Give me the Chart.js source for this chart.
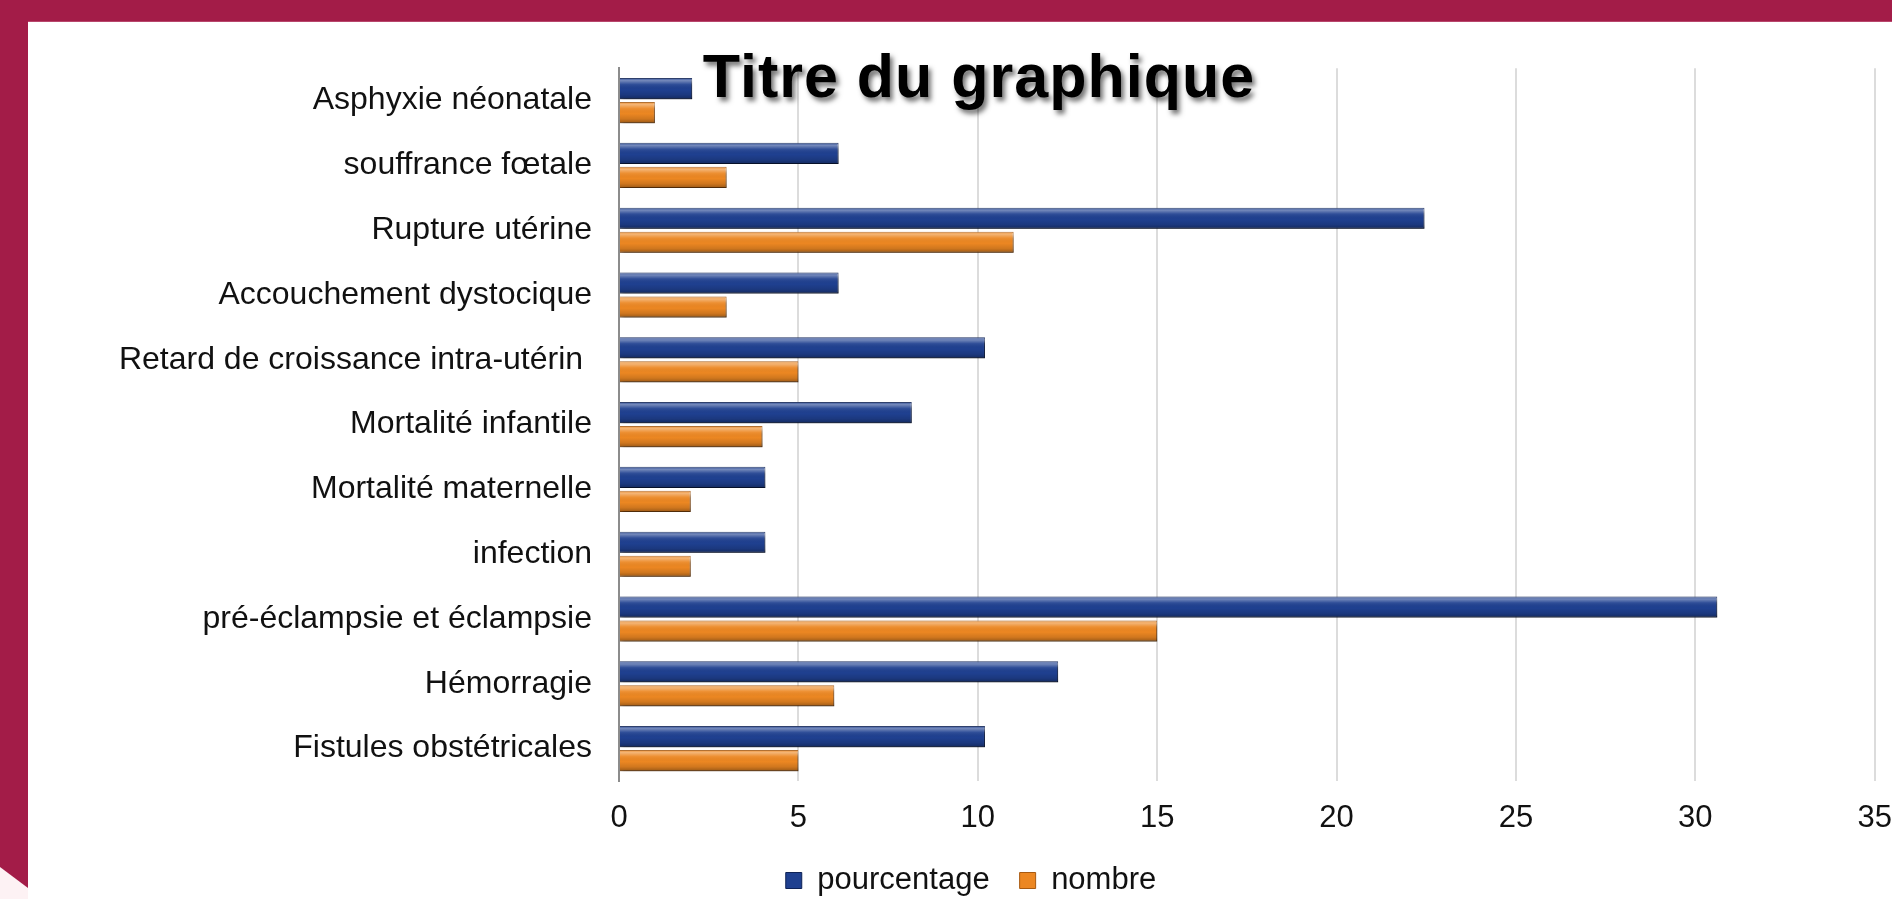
<!DOCTYPE html>
<html>
<head>
<meta charset="utf-8">
<script src="https://cdn.jsdelivr.net/npm/chart.js@4/dist/chart.umd.min.js"></script>
<style>
  body { margin: 0; width: 1892px; height: 899px; overflow: hidden; background: #fff; position: relative; font-family: "Liberation Sans", Arial, sans-serif; }
  #topBand { position: absolute; left: 0; top: 0; width: 1892px; height: 22px; background: #a31c48; border-bottom: 1px solid #b8466c; box-sizing: border-box; z-index: 2; }
  #leftBase { position: absolute; left: 0; top: 0; width: 28px; height: 899px; background: #fdf2f4; z-index: 2; }
  #leftBand { position: absolute; left: 0; top: 0; width: 28px; height: 899px; background: #a31c48; z-index: 3;
    clip-path: polygon(0 0, 28px 0, 28px 888px, 0 867px); }
  #wrap { position: absolute; left: 28px; top: 22px; width: 1886px; height: 877px; }
</style>
</head>
<body>
<div id="leftBase"></div>
<div id="leftBand"></div>
<div id="topBand"></div>
<div id="wrap"><canvas id="myChart"></canvas></div>
<script>
const chartTitle = "Titre du graphique";
const categories = [
  "Asphyxie néonatale",
  "souffrance fœtale",
  "Rupture utérine",
  "Accouchement dystocique",
  "Retard de croissance intra-utérin ",
  "Mortalité infantile",
  "Mortalité maternelle",
  "infection",
  "pré-éclampsie et éclampsie",
  "Hémorragie",
  "Fistules obstétricales"
];
const pourcentage = [2.04, 6.12, 22.45, 6.12, 10.2, 8.16, 4.08, 4.08, 30.61, 12.24, 10.2];
const nombre = [1, 3, 11, 3, 5, 4, 2, 2, 15, 6, 5];
const xTicks = [0, 5, 10, 15, 20, 25, 30, 35];

const fontName = "'Liberation Sans', Arial, sans-serif";

// shadow under the bars + bevel shading on top of them
const bevelPlugin = {
  id: 'bevel',
  beforeDatasetsDraw(chart) {
    const ctx = chart.ctx;
    ctx.save();
    ctx.shadowColor = 'rgba(0,0,0,0.35)';
    ctx.shadowOffsetX = 2;
    ctx.shadowOffsetY = 3;
    ctx.shadowBlur = 4;
  },
  afterDatasetsDraw(chart) {
    const ctx = chart.ctx;
    ctx.restore();
    chart.data.datasets.forEach((ds, i) => {
      chart.getDatasetMeta(i).data.forEach(bar => {
        const left = Math.min(bar.x, bar.base);
        const w = Math.abs(bar.x - bar.base);
        const top = bar.y - bar.height / 2;
        const g = ctx.createLinearGradient(0, top, 0, top + bar.height);
        g.addColorStop(0, 'rgba(255,255,255,0.10)');
        g.addColorStop(0.12, 'rgba(255,255,255,0.38)');
        g.addColorStop(0.3, 'rgba(255,255,255,0.08)');
        g.addColorStop(0.55, 'rgba(0,0,0,0)');
        g.addColorStop(0.8, 'rgba(0,0,0,0.12)');
        g.addColorStop(1, 'rgba(0,0,0,0.35)');
        ctx.fillStyle = g;
        ctx.fillRect(left, top, w, bar.height);
      });
    });
  }
};

// title sits over the plot, like the original
const titlePlugin = {
  id: 'floatTitle',
  afterDraw(chart) {
    const ctx = chart.ctx;
    ctx.save();
    ctx.font = "bold 61px " + fontName;
    ctx.textAlign = 'center';
    ctx.textBaseline = 'alphabetic';
    ctx.fillStyle = '#000';
    ctx.shadowColor = 'rgba(0,0,0,0.55)';
    ctx.shadowOffsetX = 3;
    ctx.shadowOffsetY = 4;
    ctx.shadowBlur = 5;
    if (ctx.letterSpacing !== undefined) ctx.letterSpacing = '1px';
    ctx.fillText(chartTitle, 951, 75);
    ctx.restore();
  }
};

new Chart("myChart", {
  type: "bar",
  data: {
    labels: categories,
    datasets: [{
      label: "pourcentage",
      data: pourcentage,
      backgroundColor: "#1f4090",
      borderColor: "#0e2256",
      borderWidth: 1,
      categoryPercentage: 0.74,
      barPercentage: 0.88
    }, {
      label: "nombre",
      data: nombre,
      backgroundColor: "#ec8722",
      borderColor: "#a85a10",
      borderWidth: 1,
      categoryPercentage: 0.74,
      barPercentage: 0.88
    }]
  },
  options: {
    indexAxis: 'y',
    responsive: true,
    maintainAspectRatio: false,
    animation: false,
    layout: { padding: { top: 44, left: 0, bottom: 0 } },
    scales: {
      x: {
        min: 0,
        max: 35,
        afterBuildTicks: s => { s.ticks = xTicks.map(v => ({ value: v })); },
        afterFit: s => { s.height = 54; },
        grid: {
          color: c => c.tick && c.tick.value === 0 ? '#8c8c8c' : '#dcdcdc',
          lineWidth: 2,
          drawTicks: false
        },
        border: { display: false },
        ticks: {
          padding: 22,
          color: '#111',
          font: { family: fontName, size: 31, lineHeight: 1 }
        }
      },
      y: {
        afterFit: s => { s.width = 591; },
        grid: { color: 'transparent', drawTicks: false },
        border: { color: '#8c8c8c', width: 2 },
        ticks: {
          padding: 27,
          color: '#111',
          autoSkip: false,
          font: { family: fontName, size: 32 }
        }
      }
    },
    plugins: {
      title: { display: false },
      tooltip: { enabled: false },
      legend: {
        position: 'bottom',
        maxHeight: 64,
        labels: {
          boxWidth: 16,
          boxHeight: 16,
          padding: 30,
          color: '#111',
          font: { family: fontName, size: 31, lineHeight: 1 }
        }
      }
    }
  },
  plugins: [bevelPlugin, titlePlugin]
});
</script>
</body>
</html>
